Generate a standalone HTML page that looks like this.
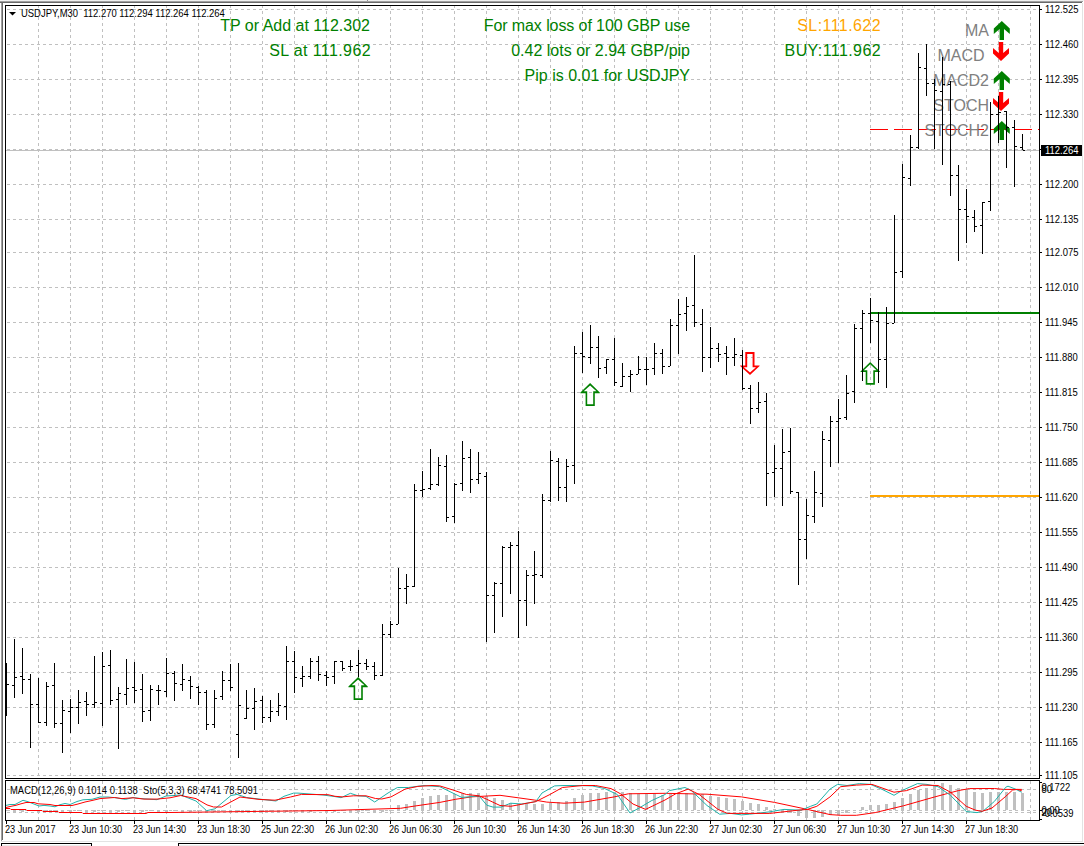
<!DOCTYPE html>
<html><head><meta charset="utf-8"><title>USDJPY,M30</title>
<style>
html,body{margin:0;padding:0;background:#fff;width:1084px;height:846px;overflow:hidden}
svg{position:absolute;left:0;top:0;display:block}
text{font-family:"Liberation Sans", sans-serif}
.ax{font-size:10px;fill:#000}
.big{font-size:16px}
</style></head><body>
<svg width="1084" height="846" viewBox="0 0 1084 846">

<g shape-rendering="crispEdges">
<rect x="0" y="0" width="1084" height="1" fill="#f0f0f0"/>
<rect x="0" y="1" width="1083" height="1" fill="#a0a0a0"/>
<rect x="0" y="2" width="1082" height="1" fill="#696969"/>
<rect x="1" y="3" width="1" height="838" fill="#a0a0a0"/>
<rect x="2" y="3" width="1" height="837" fill="#696969"/>
<rect x="1082" y="3" width="1" height="839" fill="#e3e3e3"/>
<rect x="1" y="841" width="1082" height="1" fill="#e3e3e3"/>
<rect x="1" y="843" width="91" height="1" fill="#000"/>
<rect x="1" y="843" width="1" height="3" fill="#000"/>
<rect x="367" y="0" width="1" height="1" fill="#909090"/>
<rect x="91" y="843" width="1" height="3" fill="#000"/>
<rect x="2" y="845" width="89" height="1" fill="#ececec"/>
<rect x="178" y="843" width="906" height="1" fill="#000"/>
<rect x="178" y="843" width="1" height="3" fill="#000"/>
<rect x="179" y="845" width="905" height="1" fill="#ececec"/>
</g>
<g shape-rendering="crispEdges" stroke="#c0c0c0" stroke-width="1" stroke-dasharray="3 3">
<line x1="7" y1="9.5" x2="1039" y2="9.5"/>
<line x1="7" y1="44.5" x2="1039" y2="44.5"/>
<line x1="7" y1="79.5" x2="1039" y2="79.5"/>
<line x1="7" y1="114.5" x2="1039" y2="114.5"/>
<line x1="7" y1="149.5" x2="1039" y2="149.5"/>
<line x1="7" y1="184.5" x2="1039" y2="184.5"/>
<line x1="7" y1="219.5" x2="1039" y2="219.5"/>
<line x1="7" y1="252.5" x2="1039" y2="252.5"/>
<line x1="7" y1="287.5" x2="1039" y2="287.5"/>
<line x1="7" y1="322.5" x2="1039" y2="322.5"/>
<line x1="7" y1="357.5" x2="1039" y2="357.5"/>
<line x1="7" y1="392.5" x2="1039" y2="392.5"/>
<line x1="7" y1="427.5" x2="1039" y2="427.5"/>
<line x1="7" y1="462.5" x2="1039" y2="462.5"/>
<line x1="7" y1="497.5" x2="1039" y2="497.5"/>
<line x1="7" y1="532.5" x2="1039" y2="532.5"/>
<line x1="7" y1="567.5" x2="1039" y2="567.5"/>
<line x1="7" y1="602.5" x2="1039" y2="602.5"/>
<line x1="7" y1="637.5" x2="1039" y2="637.5"/>
<line x1="7" y1="672.5" x2="1039" y2="672.5"/>
<line x1="7" y1="707.5" x2="1039" y2="707.5"/>
<line x1="7" y1="742.5" x2="1039" y2="742.5"/>
<line x1="7" y1="775.5" x2="1039" y2="775.5"/>
<line x1="38.5" y1="5" x2="38.5" y2="777"/>
<line x1="70.5" y1="5" x2="70.5" y2="777"/>
<line x1="102.5" y1="5" x2="102.5" y2="777"/>
<line x1="134.5" y1="5" x2="134.5" y2="777"/>
<line x1="166.5" y1="5" x2="166.5" y2="777"/>
<line x1="198.5" y1="5" x2="198.5" y2="777"/>
<line x1="230.5" y1="5" x2="230.5" y2="777"/>
<line x1="262.5" y1="5" x2="262.5" y2="777"/>
<line x1="294.5" y1="5" x2="294.5" y2="777"/>
<line x1="326.5" y1="5" x2="326.5" y2="777"/>
<line x1="358.5" y1="5" x2="358.5" y2="777"/>
<line x1="390.5" y1="5" x2="390.5" y2="777"/>
<line x1="422.5" y1="5" x2="422.5" y2="777"/>
<line x1="454.5" y1="5" x2="454.5" y2="777"/>
<line x1="486.5" y1="5" x2="486.5" y2="777"/>
<line x1="518.5" y1="5" x2="518.5" y2="777"/>
<line x1="550.5" y1="5" x2="550.5" y2="777"/>
<line x1="582.5" y1="5" x2="582.5" y2="777"/>
<line x1="614.5" y1="5" x2="614.5" y2="777"/>
<line x1="646.5" y1="5" x2="646.5" y2="777"/>
<line x1="678.5" y1="5" x2="678.5" y2="777"/>
<line x1="710.5" y1="5" x2="710.5" y2="777"/>
<line x1="742.5" y1="5" x2="742.5" y2="777"/>
<line x1="774.5" y1="5" x2="774.5" y2="777"/>
<line x1="806.5" y1="5" x2="806.5" y2="777"/>
<line x1="838.5" y1="5" x2="838.5" y2="777"/>
<line x1="870.5" y1="5" x2="870.5" y2="777"/>
<line x1="902.5" y1="5" x2="902.5" y2="777"/>
<line x1="934.5" y1="5" x2="934.5" y2="777"/>
<line x1="966.5" y1="5" x2="966.5" y2="777"/>
<line x1="998.5" y1="5" x2="998.5" y2="777"/>
<line x1="1030.5" y1="5" x2="1030.5" y2="777"/>
<line x1="7" y1="789.5" x2="1039" y2="789.5"/>
<line x1="7" y1="810.5" x2="1039" y2="810.5"/>
<line x1="7" y1="812.5" x2="1039" y2="812.5"/>
<line x1="38.5" y1="781" x2="38.5" y2="820"/>
<line x1="70.5" y1="781" x2="70.5" y2="820"/>
<line x1="102.5" y1="781" x2="102.5" y2="820"/>
<line x1="134.5" y1="781" x2="134.5" y2="820"/>
<line x1="166.5" y1="781" x2="166.5" y2="820"/>
<line x1="198.5" y1="781" x2="198.5" y2="820"/>
<line x1="230.5" y1="781" x2="230.5" y2="820"/>
<line x1="262.5" y1="781" x2="262.5" y2="820"/>
<line x1="294.5" y1="781" x2="294.5" y2="820"/>
<line x1="326.5" y1="781" x2="326.5" y2="820"/>
<line x1="358.5" y1="781" x2="358.5" y2="820"/>
<line x1="390.5" y1="781" x2="390.5" y2="820"/>
<line x1="422.5" y1="781" x2="422.5" y2="820"/>
<line x1="454.5" y1="781" x2="454.5" y2="820"/>
<line x1="486.5" y1="781" x2="486.5" y2="820"/>
<line x1="518.5" y1="781" x2="518.5" y2="820"/>
<line x1="550.5" y1="781" x2="550.5" y2="820"/>
<line x1="582.5" y1="781" x2="582.5" y2="820"/>
<line x1="614.5" y1="781" x2="614.5" y2="820"/>
<line x1="646.5" y1="781" x2="646.5" y2="820"/>
<line x1="678.5" y1="781" x2="678.5" y2="820"/>
<line x1="710.5" y1="781" x2="710.5" y2="820"/>
<line x1="742.5" y1="781" x2="742.5" y2="820"/>
<line x1="774.5" y1="781" x2="774.5" y2="820"/>
<line x1="806.5" y1="781" x2="806.5" y2="820"/>
<line x1="838.5" y1="781" x2="838.5" y2="820"/>
<line x1="870.5" y1="781" x2="870.5" y2="820"/>
<line x1="902.5" y1="781" x2="902.5" y2="820"/>
<line x1="934.5" y1="781" x2="934.5" y2="820"/>
<line x1="966.5" y1="781" x2="966.5" y2="820"/>
<line x1="998.5" y1="781" x2="998.5" y2="820"/>
<line x1="1030.5" y1="781" x2="1030.5" y2="820"/>
</g>
<rect x="6" y="150" width="1033" height="1" fill="#c0c0c0" shape-rendering="crispEdges"/>
<g shape-rendering="crispEdges">
<rect x="870" y="312" width="169" height="2" fill="#008000"/>
<rect x="870" y="495" width="169" height="2" fill="#ffa500"/>
<line x1="870" y1="129.5" x2="1039" y2="129.5" stroke="#ff0000" stroke-width="1" stroke-dasharray="18 6"/>
</g>
<path d="M358.10,677.10 L367.80,686.50 L367.80,687.20 L362.80,687.20 L362.80,699.90 L353.60,699.90 L353.60,687.20 L348.40,687.20 L348.40,686.50 Z M358.10,679.40 L364.50,685.30 L361.20,685.30 L361.20,698.20 L355.20,698.20 L355.20,685.30 L351.70,685.30 Z" fill="#008000" fill-rule="evenodd"/>
<path d="M590.10,383.10 L599.80,392.50 L599.80,393.20 L594.80,393.20 L594.80,405.90 L585.60,405.90 L585.60,393.20 L580.40,393.20 L580.40,392.50 Z M590.10,385.40 L596.50,391.30 L593.20,391.30 L593.20,404.20 L587.20,404.20 L587.20,391.30 L583.70,391.30 Z" fill="#008000" fill-rule="evenodd"/>
<path d="M870.20,362.00 L879.90,371.40 L879.90,372.10 L874.90,372.10 L874.90,384.80 L865.70,384.80 L865.70,372.10 L860.50,372.10 L860.50,371.40 Z M870.20,364.30 L876.60,370.20 L873.30,370.20 L873.30,383.10 L867.30,383.10 L867.30,370.20 L863.80,370.20 Z" fill="#008000" fill-rule="evenodd"/>
<path d="M745.30,352.00 L754.50,352.00 L754.50,365.40 L759.60,365.40 L759.60,366.00 L750.00,375.00 L740.20,366.00 L740.20,365.40 L745.30,365.40 Z M747.20,353.90 L752.60,353.90 L752.60,367.20 L756.00,367.20 L750.00,372.60 L743.80,367.20 L747.20,367.20 Z" fill="#ff0000" fill-rule="evenodd"/>
<text x="370" y="31" class="big" fill="#008000" text-anchor="end">TP or Add at 112.302</text>
<text x="371" y="56" class="big" fill="#008000" text-anchor="end" letter-spacing="0.4">SL at 111.962</text>
<text x="690" y="31" class="big" fill="#008000" text-anchor="end" letter-spacing="-0.09">For max loss of 100 GBP use</text>
<text x="690" y="56" class="big" fill="#008000" text-anchor="end">0.42 lots or 2.94 GBP/pip</text>
<text x="690" y="81" class="big" fill="#008000" text-anchor="end">Pip is 0.01 for USDJPY</text>
<text x="881" y="31" class="big" fill="#ffa500" text-anchor="end" letter-spacing="0.43">SL:111.622</text>
<text x="881" y="56" class="big" fill="#008000" text-anchor="end" letter-spacing="0.41">BUY:111.962</text>
<text x="989" y="36" class="big" fill="#808080" text-anchor="end">MA</text>
<text x="984.5" y="61" class="big" fill="#808080" text-anchor="end">MACD</text>
<text x="989" y="86" class="big" fill="#808080" text-anchor="end">MACD2</text>
<text x="989" y="111" class="big" fill="#808080" text-anchor="end">STOCH</text>
<text x="989" y="136" class="big" fill="#808080" text-anchor="end">STOCH2</text>
<polygon points="1001.8,21 1009.8,28.5 1009.8,34 1004.0,29 1004.0,40 999.5999999999999,40 999.5999999999999,29 993.8,34 993.8,28.5" fill="#008000"/>
<polygon points="998.8,42 1003.2,42 1003.2,53 1009,48 1009,53.5 1001,61 993,53.5 993,48 998.8,53" fill="#ff0000"/>
<polygon points="1001.8,71 1009.8,78.5 1009.8,84 1004.0,79 1004.0,90 999.5999999999999,90 999.5999999999999,79 993.8,84 993.8,78.5" fill="#008000"/>
<polygon points="998.8,92 1003.2,92 1003.2,103 1009,98 1009,103.5 1001,111 993,103.5 993,98 998.8,103" fill="#ff0000"/>
<polygon points="1001.8,121 1009.8,128.5 1009.8,134 1004.0,129 1004.0,140 999.5999999999999,140 999.5999999999999,129 993.8,134 993.8,128.5" fill="#008000"/>
<g fill="#000" shape-rendering="crispEdges">
<rect x="6" y="663" width="1" height="53"/>
<rect x="7" y="684" width="2" height="1"/>
<rect x="14" y="639" width="1" height="59"/>
<rect x="12" y="685" width="2" height="1"/>
<rect x="15" y="677" width="2" height="1"/>
<rect x="22" y="648" width="1" height="46"/>
<rect x="20" y="676" width="2" height="1"/>
<rect x="23" y="679" width="2" height="1"/>
<rect x="30" y="674" width="1" height="74"/>
<rect x="28" y="679" width="2" height="1"/>
<rect x="31" y="704" width="2" height="1"/>
<rect x="38" y="678" width="1" height="45"/>
<rect x="36" y="704" width="2" height="1"/>
<rect x="39" y="722" width="2" height="1"/>
<rect x="46" y="682" width="1" height="44"/>
<rect x="44" y="722" width="2" height="1"/>
<rect x="47" y="686" width="2" height="1"/>
<rect x="54" y="663" width="1" height="65"/>
<rect x="52" y="685" width="2" height="1"/>
<rect x="55" y="723" width="2" height="1"/>
<rect x="62" y="700" width="1" height="53"/>
<rect x="60" y="723" width="2" height="1"/>
<rect x="63" y="710" width="2" height="1"/>
<rect x="70" y="699" width="1" height="34"/>
<rect x="68" y="711" width="2" height="1"/>
<rect x="71" y="707" width="2" height="1"/>
<rect x="78" y="690" width="1" height="34"/>
<rect x="76" y="707" width="2" height="1"/>
<rect x="79" y="702" width="2" height="1"/>
<rect x="86" y="692" width="1" height="24"/>
<rect x="84" y="701" width="2" height="1"/>
<rect x="87" y="704" width="2" height="1"/>
<rect x="94" y="656" width="1" height="52"/>
<rect x="92" y="704" width="2" height="1"/>
<rect x="95" y="702" width="2" height="1"/>
<rect x="102" y="652" width="1" height="74"/>
<rect x="100" y="703" width="2" height="1"/>
<rect x="103" y="666" width="2" height="1"/>
<rect x="110" y="650" width="1" height="55"/>
<rect x="108" y="665" width="2" height="1"/>
<rect x="111" y="700" width="2" height="1"/>
<rect x="118" y="687" width="1" height="62"/>
<rect x="116" y="699" width="2" height="1"/>
<rect x="119" y="693" width="2" height="1"/>
<rect x="126" y="659" width="1" height="46"/>
<rect x="124" y="694" width="2" height="1"/>
<rect x="127" y="688" width="2" height="1"/>
<rect x="134" y="662" width="1" height="41"/>
<rect x="132" y="687" width="2" height="1"/>
<rect x="135" y="690" width="2" height="1"/>
<rect x="142" y="674" width="1" height="48"/>
<rect x="140" y="689" width="2" height="1"/>
<rect x="143" y="711" width="2" height="1"/>
<rect x="150" y="685" width="1" height="36"/>
<rect x="148" y="710" width="2" height="1"/>
<rect x="151" y="689" width="2" height="1"/>
<rect x="158" y="685" width="1" height="20"/>
<rect x="156" y="690" width="2" height="1"/>
<rect x="159" y="690" width="2" height="1"/>
<rect x="166" y="658" width="1" height="39"/>
<rect x="164" y="691" width="2" height="1"/>
<rect x="167" y="673" width="2" height="1"/>
<rect x="174" y="671" width="1" height="30"/>
<rect x="172" y="673" width="2" height="1"/>
<rect x="175" y="683" width="2" height="1"/>
<rect x="182" y="664" width="1" height="27"/>
<rect x="180" y="684" width="2" height="1"/>
<rect x="183" y="679" width="2" height="1"/>
<rect x="190" y="676" width="1" height="23"/>
<rect x="188" y="680" width="2" height="1"/>
<rect x="191" y="686" width="2" height="1"/>
<rect x="198" y="686" width="1" height="19"/>
<rect x="196" y="687" width="2" height="1"/>
<rect x="199" y="692" width="2" height="1"/>
<rect x="206" y="690" width="1" height="40"/>
<rect x="204" y="692" width="2" height="1"/>
<rect x="207" y="724" width="2" height="1"/>
<rect x="214" y="690" width="1" height="38"/>
<rect x="212" y="724" width="2" height="1"/>
<rect x="215" y="698" width="2" height="1"/>
<rect x="222" y="671" width="1" height="29"/>
<rect x="220" y="696" width="2" height="1"/>
<rect x="223" y="680" width="2" height="1"/>
<rect x="230" y="664" width="1" height="27"/>
<rect x="228" y="680" width="2" height="1"/>
<rect x="231" y="687" width="2" height="1"/>
<rect x="238" y="663" width="1" height="95"/>
<rect x="236" y="734" width="2" height="1"/>
<rect x="239" y="705" width="2" height="1"/>
<rect x="246" y="690" width="1" height="29"/>
<rect x="244" y="718" width="2" height="1"/>
<rect x="247" y="708" width="2" height="1"/>
<rect x="254" y="688" width="1" height="42"/>
<rect x="252" y="708" width="2" height="1"/>
<rect x="255" y="701" width="2" height="1"/>
<rect x="262" y="696" width="1" height="27"/>
<rect x="260" y="700" width="2" height="1"/>
<rect x="263" y="717" width="2" height="1"/>
<rect x="270" y="700" width="1" height="22"/>
<rect x="268" y="717" width="2" height="1"/>
<rect x="271" y="711" width="2" height="1"/>
<rect x="278" y="693" width="1" height="23"/>
<rect x="276" y="711" width="2" height="1"/>
<rect x="279" y="705" width="2" height="1"/>
<rect x="286" y="646" width="1" height="74"/>
<rect x="284" y="706" width="2" height="1"/>
<rect x="287" y="661" width="2" height="1"/>
<rect x="294" y="651" width="1" height="42"/>
<rect x="292" y="661" width="2" height="1"/>
<rect x="295" y="677" width="2" height="1"/>
<rect x="302" y="666" width="1" height="21"/>
<rect x="300" y="678" width="2" height="1"/>
<rect x="303" y="676" width="2" height="1"/>
<rect x="310" y="658" width="1" height="21"/>
<rect x="308" y="676" width="2" height="1"/>
<rect x="311" y="661" width="2" height="1"/>
<rect x="318" y="656" width="1" height="25"/>
<rect x="316" y="661" width="2" height="1"/>
<rect x="319" y="674" width="2" height="1"/>
<rect x="326" y="671" width="1" height="15"/>
<rect x="324" y="675" width="2" height="1"/>
<rect x="327" y="677" width="2" height="1"/>
<rect x="334" y="661" width="1" height="23"/>
<rect x="332" y="676" width="2" height="1"/>
<rect x="335" y="661" width="2" height="1"/>
<rect x="342" y="661" width="1" height="10"/>
<rect x="340" y="661" width="2" height="1"/>
<rect x="343" y="668" width="2" height="1"/>
<rect x="350" y="660" width="1" height="11"/>
<rect x="348" y="666" width="2" height="1"/>
<rect x="351" y="666" width="2" height="1"/>
<rect x="358" y="650" width="1" height="27"/>
<rect x="356" y="665" width="2" height="1"/>
<rect x="359" y="663" width="2" height="1"/>
<rect x="366" y="659" width="1" height="11"/>
<rect x="364" y="663" width="2" height="1"/>
<rect x="367" y="666" width="2" height="1"/>
<rect x="374" y="662" width="1" height="18"/>
<rect x="372" y="666" width="2" height="1"/>
<rect x="375" y="675" width="2" height="1"/>
<rect x="382" y="624" width="1" height="52"/>
<rect x="380" y="675" width="2" height="1"/>
<rect x="383" y="634" width="2" height="1"/>
<rect x="390" y="621" width="1" height="17"/>
<rect x="388" y="634" width="2" height="1"/>
<rect x="391" y="624" width="2" height="1"/>
<rect x="398" y="568" width="1" height="56"/>
<rect x="396" y="624" width="2" height="1"/>
<rect x="399" y="588" width="2" height="1"/>
<rect x="406" y="574" width="1" height="30"/>
<rect x="404" y="588" width="2" height="1"/>
<rect x="407" y="586" width="2" height="1"/>
<rect x="414" y="484" width="1" height="103"/>
<rect x="412" y="586" width="2" height="1"/>
<rect x="415" y="490" width="2" height="1"/>
<rect x="422" y="471" width="1" height="26"/>
<rect x="420" y="490" width="2" height="1"/>
<rect x="423" y="489" width="2" height="1"/>
<rect x="430" y="449" width="1" height="41"/>
<rect x="428" y="488" width="2" height="1"/>
<rect x="431" y="484" width="2" height="1"/>
<rect x="438" y="457" width="1" height="29"/>
<rect x="436" y="484" width="2" height="1"/>
<rect x="439" y="465" width="2" height="1"/>
<rect x="446" y="455" width="1" height="67"/>
<rect x="444" y="466" width="2" height="1"/>
<rect x="447" y="517" width="2" height="1"/>
<rect x="454" y="483" width="1" height="40"/>
<rect x="452" y="516" width="2" height="1"/>
<rect x="455" y="484" width="2" height="1"/>
<rect x="462" y="441" width="1" height="50"/>
<rect x="460" y="483" width="2" height="1"/>
<rect x="463" y="458" width="2" height="1"/>
<rect x="470" y="449" width="1" height="44"/>
<rect x="468" y="457" width="2" height="1"/>
<rect x="471" y="479" width="2" height="1"/>
<rect x="478" y="452" width="1" height="32"/>
<rect x="476" y="479" width="2" height="1"/>
<rect x="479" y="473" width="2" height="1"/>
<rect x="486" y="472" width="1" height="170"/>
<rect x="484" y="476" width="2" height="1"/>
<rect x="487" y="595" width="2" height="1"/>
<rect x="494" y="582" width="1" height="51"/>
<rect x="492" y="595" width="2" height="1"/>
<rect x="495" y="583" width="2" height="1"/>
<rect x="502" y="546" width="1" height="71"/>
<rect x="500" y="583" width="2" height="1"/>
<rect x="503" y="547" width="2" height="1"/>
<rect x="510" y="542" width="1" height="52"/>
<rect x="508" y="547" width="2" height="1"/>
<rect x="511" y="545" width="2" height="1"/>
<rect x="518" y="531" width="1" height="107"/>
<rect x="516" y="545" width="2" height="1"/>
<rect x="519" y="600" width="2" height="1"/>
<rect x="526" y="570" width="1" height="56"/>
<rect x="524" y="600" width="2" height="1"/>
<rect x="527" y="575" width="2" height="1"/>
<rect x="534" y="551" width="1" height="53"/>
<rect x="532" y="575" width="2" height="1"/>
<rect x="535" y="574" width="2" height="1"/>
<rect x="542" y="494" width="1" height="84"/>
<rect x="540" y="575" width="2" height="1"/>
<rect x="543" y="500" width="2" height="1"/>
<rect x="550" y="451" width="1" height="51"/>
<rect x="548" y="500" width="2" height="1"/>
<rect x="551" y="460" width="2" height="1"/>
<rect x="558" y="458" width="1" height="43"/>
<rect x="556" y="461" width="2" height="1"/>
<rect x="559" y="487" width="2" height="1"/>
<rect x="566" y="459" width="1" height="43"/>
<rect x="564" y="487" width="2" height="1"/>
<rect x="567" y="466" width="2" height="1"/>
<rect x="574" y="346" width="1" height="138"/>
<rect x="572" y="465" width="2" height="1"/>
<rect x="575" y="353" width="2" height="1"/>
<rect x="582" y="332" width="1" height="41"/>
<rect x="580" y="353" width="2" height="1"/>
<rect x="583" y="356" width="2" height="1"/>
<rect x="590" y="325" width="1" height="39"/>
<rect x="588" y="357" width="2" height="1"/>
<rect x="591" y="347" width="2" height="1"/>
<rect x="598" y="336" width="1" height="42"/>
<rect x="596" y="347" width="2" height="1"/>
<rect x="599" y="368" width="2" height="1"/>
<rect x="606" y="359" width="1" height="15"/>
<rect x="604" y="367" width="2" height="1"/>
<rect x="607" y="359" width="2" height="1"/>
<rect x="614" y="338" width="1" height="48"/>
<rect x="612" y="359" width="2" height="1"/>
<rect x="615" y="382" width="2" height="1"/>
<rect x="622" y="363" width="1" height="24"/>
<rect x="620" y="386" width="2" height="1"/>
<rect x="623" y="376" width="2" height="1"/>
<rect x="630" y="370" width="1" height="22"/>
<rect x="628" y="376" width="2" height="1"/>
<rect x="631" y="374" width="2" height="1"/>
<rect x="638" y="356" width="1" height="18"/>
<rect x="636" y="374" width="2" height="1"/>
<rect x="639" y="369" width="2" height="1"/>
<rect x="646" y="357" width="1" height="28"/>
<rect x="644" y="369" width="2" height="1"/>
<rect x="647" y="369" width="2" height="1"/>
<rect x="654" y="343" width="1" height="32"/>
<rect x="652" y="368" width="2" height="1"/>
<rect x="655" y="353" width="2" height="1"/>
<rect x="662" y="349" width="1" height="25"/>
<rect x="660" y="353" width="2" height="1"/>
<rect x="663" y="366" width="2" height="1"/>
<rect x="670" y="319" width="1" height="47"/>
<rect x="668" y="366" width="2" height="1"/>
<rect x="671" y="325" width="2" height="1"/>
<rect x="678" y="299" width="1" height="55"/>
<rect x="676" y="325" width="2" height="1"/>
<rect x="679" y="314" width="2" height="1"/>
<rect x="686" y="297" width="1" height="34"/>
<rect x="684" y="313" width="2" height="1"/>
<rect x="687" y="306" width="2" height="1"/>
<rect x="694" y="255" width="1" height="72"/>
<rect x="692" y="305" width="2" height="1"/>
<rect x="695" y="322" width="2" height="1"/>
<rect x="702" y="309" width="1" height="63"/>
<rect x="700" y="324" width="2" height="1"/>
<rect x="703" y="357" width="2" height="1"/>
<rect x="710" y="327" width="1" height="41"/>
<rect x="708" y="357" width="2" height="1"/>
<rect x="711" y="348" width="2" height="1"/>
<rect x="718" y="343" width="1" height="19"/>
<rect x="716" y="348" width="2" height="1"/>
<rect x="719" y="354" width="2" height="1"/>
<rect x="726" y="346" width="1" height="29"/>
<rect x="724" y="353" width="2" height="1"/>
<rect x="727" y="357" width="2" height="1"/>
<rect x="734" y="338" width="1" height="28"/>
<rect x="732" y="357" width="2" height="1"/>
<rect x="735" y="354" width="2" height="1"/>
<rect x="742" y="350" width="1" height="40"/>
<rect x="740" y="355" width="2" height="1"/>
<rect x="743" y="388" width="2" height="1"/>
<rect x="750" y="385" width="1" height="39"/>
<rect x="748" y="388" width="2" height="1"/>
<rect x="751" y="408" width="2" height="1"/>
<rect x="758" y="382" width="1" height="31"/>
<rect x="756" y="408" width="2" height="1"/>
<rect x="759" y="402" width="2" height="1"/>
<rect x="766" y="393" width="1" height="113"/>
<rect x="764" y="401" width="2" height="1"/>
<rect x="767" y="473" width="2" height="1"/>
<rect x="774" y="445" width="1" height="52"/>
<rect x="772" y="472" width="2" height="1"/>
<rect x="775" y="468" width="2" height="1"/>
<rect x="782" y="429" width="1" height="77"/>
<rect x="780" y="468" width="2" height="1"/>
<rect x="783" y="452" width="2" height="1"/>
<rect x="790" y="428" width="1" height="66"/>
<rect x="788" y="451" width="2" height="1"/>
<rect x="791" y="491" width="2" height="1"/>
<rect x="798" y="492" width="1" height="93"/>
<rect x="796" y="492" width="2" height="1"/>
<rect x="799" y="539" width="2" height="1"/>
<rect x="806" y="499" width="1" height="60"/>
<rect x="804" y="539" width="2" height="1"/>
<rect x="807" y="515" width="2" height="1"/>
<rect x="814" y="471" width="1" height="52"/>
<rect x="812" y="516" width="2" height="1"/>
<rect x="815" y="492" width="2" height="1"/>
<rect x="822" y="431" width="1" height="76"/>
<rect x="820" y="493" width="2" height="1"/>
<rect x="823" y="439" width="2" height="1"/>
<rect x="830" y="416" width="1" height="51"/>
<rect x="828" y="440" width="2" height="1"/>
<rect x="831" y="421" width="2" height="1"/>
<rect x="838" y="399" width="1" height="64"/>
<rect x="836" y="421" width="2" height="1"/>
<rect x="839" y="418" width="2" height="1"/>
<rect x="846" y="375" width="1" height="45"/>
<rect x="844" y="417" width="2" height="1"/>
<rect x="847" y="393" width="2" height="1"/>
<rect x="854" y="324" width="1" height="79"/>
<rect x="852" y="391" width="2" height="1"/>
<rect x="855" y="328" width="2" height="1"/>
<rect x="862" y="310" width="1" height="71"/>
<rect x="860" y="328" width="2" height="1"/>
<rect x="863" y="313" width="2" height="1"/>
<rect x="870" y="298" width="1" height="45"/>
<rect x="868" y="313" width="2" height="1"/>
<rect x="871" y="320" width="2" height="1"/>
<rect x="878" y="312" width="1" height="71"/>
<rect x="876" y="321" width="2" height="1"/>
<rect x="879" y="359" width="2" height="1"/>
<rect x="886" y="307" width="1" height="81"/>
<rect x="884" y="359" width="2" height="1"/>
<rect x="887" y="323" width="2" height="1"/>
<rect x="894" y="215" width="1" height="108"/>
<rect x="892" y="323" width="2" height="1"/>
<rect x="895" y="272" width="2" height="1"/>
<rect x="902" y="164" width="1" height="114"/>
<rect x="900" y="271" width="2" height="1"/>
<rect x="903" y="177" width="2" height="1"/>
<rect x="910" y="135" width="1" height="51"/>
<rect x="908" y="178" width="2" height="1"/>
<rect x="911" y="147" width="2" height="1"/>
<rect x="918" y="53" width="1" height="96"/>
<rect x="916" y="147" width="2" height="1"/>
<rect x="919" y="67" width="2" height="1"/>
<rect x="926" y="44" width="1" height="52"/>
<rect x="924" y="68" width="2" height="1"/>
<rect x="927" y="83" width="2" height="1"/>
<rect x="934" y="79" width="1" height="70"/>
<rect x="932" y="83" width="2" height="1"/>
<rect x="935" y="90" width="2" height="1"/>
<rect x="942" y="57" width="1" height="108"/>
<rect x="940" y="91" width="2" height="1"/>
<rect x="943" y="84" width="2" height="1"/>
<rect x="950" y="81" width="1" height="115"/>
<rect x="948" y="84" width="2" height="1"/>
<rect x="951" y="175" width="2" height="1"/>
<rect x="958" y="165" width="1" height="96"/>
<rect x="956" y="175" width="2" height="1"/>
<rect x="959" y="209" width="2" height="1"/>
<rect x="966" y="189" width="1" height="54"/>
<rect x="964" y="209" width="2" height="1"/>
<rect x="967" y="216" width="2" height="1"/>
<rect x="974" y="210" width="1" height="22"/>
<rect x="972" y="217" width="2" height="1"/>
<rect x="975" y="226" width="2" height="1"/>
<rect x="982" y="202" width="1" height="52"/>
<rect x="980" y="225" width="2" height="1"/>
<rect x="983" y="202" width="2" height="1"/>
<rect x="990" y="102" width="1" height="109"/>
<rect x="988" y="201" width="2" height="1"/>
<rect x="991" y="114" width="2" height="1"/>
<rect x="998" y="96" width="1" height="47"/>
<rect x="996" y="114" width="2" height="1"/>
<rect x="999" y="112" width="2" height="1"/>
<rect x="1006" y="111" width="1" height="57"/>
<rect x="1004" y="111" width="2" height="1"/>
<rect x="1007" y="127" width="2" height="1"/>
<rect x="1014" y="120" width="1" height="67"/>
<rect x="1012" y="127" width="2" height="1"/>
<rect x="1015" y="146" width="2" height="1"/>
<rect x="1022" y="134" width="1" height="16"/>
<rect x="1020" y="147" width="2" height="1"/>
<rect x="1023" y="150" width="2" height="1"/>
</g>
<g shape-rendering="crispEdges" fill="#c0c0c0">
<rect x="5" y="810" width="3" height="1"/>
<rect x="13" y="810" width="3" height="2"/>
<rect x="21" y="810" width="3" height="2"/>
<rect x="29" y="810" width="3" height="1"/>
<rect x="37" y="810" width="3" height="2"/>
<rect x="45" y="810" width="3" height="2"/>
<rect x="53" y="810" width="3" height="1"/>
<rect x="61" y="810" width="3" height="2"/>
<rect x="69" y="810" width="3" height="2"/>
<rect x="77" y="810" width="3" height="1"/>
<rect x="85" y="810" width="3" height="2"/>
<rect x="93" y="810" width="3" height="2"/>
<rect x="101" y="810" width="3" height="1"/>
<rect x="109" y="810" width="3" height="2"/>
<rect x="117" y="810" width="3" height="2"/>
<rect x="125" y="810" width="3" height="1"/>
<rect x="133" y="810" width="3" height="2"/>
<rect x="141" y="810" width="3" height="2"/>
<rect x="149" y="810" width="3" height="1"/>
<rect x="157" y="810" width="3" height="2"/>
<rect x="165" y="810" width="3" height="2"/>
<rect x="173" y="810" width="3" height="1"/>
<rect x="181" y="810" width="3" height="2"/>
<rect x="189" y="810" width="3" height="2"/>
<rect x="197" y="810" width="3" height="1"/>
<rect x="205" y="810" width="3" height="2"/>
<rect x="213" y="810" width="3" height="2"/>
<rect x="221" y="810" width="3" height="1"/>
<rect x="229" y="810" width="3" height="2"/>
<rect x="237" y="810" width="3" height="2"/>
<rect x="245" y="810" width="3" height="1"/>
<rect x="253" y="810" width="3" height="2"/>
<rect x="261" y="810" width="3" height="2"/>
<rect x="269" y="810" width="3" height="1"/>
<rect x="277" y="810" width="3" height="2"/>
<rect x="285" y="810" width="3" height="2"/>
<rect x="293" y="810" width="3" height="1"/>
<rect x="301" y="810" width="3" height="2"/>
<rect x="309" y="810" width="3" height="2"/>
<rect x="317" y="810" width="3" height="1"/>
<rect x="325" y="810" width="3" height="2"/>
<rect x="333" y="810" width="3" height="2"/>
<rect x="341" y="810" width="3" height="1"/>
<rect x="349" y="810" width="3" height="2"/>
<rect x="357" y="810" width="3" height="2"/>
<rect x="365" y="810" width="3" height="1"/>
<rect x="373" y="810" width="3" height="2"/>
<rect x="381" y="810" width="3" height="2"/>
<rect x="389" y="810" width="3" height="1"/>
<rect x="397" y="805" width="3" height="5"/>
<rect x="405" y="804" width="3" height="6"/>
<rect x="413" y="801" width="3" height="9"/>
<rect x="421" y="798" width="3" height="12"/>
<rect x="429" y="796" width="3" height="14"/>
<rect x="437" y="795" width="3" height="15"/>
<rect x="445" y="795" width="3" height="15"/>
<rect x="453" y="794" width="3" height="16"/>
<rect x="461" y="793" width="3" height="17"/>
<rect x="469" y="793" width="3" height="17"/>
<rect x="477" y="793" width="3" height="17"/>
<rect x="485" y="796" width="3" height="14"/>
<rect x="493" y="798" width="3" height="12"/>
<rect x="501" y="800" width="3" height="10"/>
<rect x="509" y="803" width="3" height="7"/>
<rect x="517" y="804" width="3" height="6"/>
<rect x="525" y="804" width="3" height="6"/>
<rect x="533" y="804" width="3" height="6"/>
<rect x="541" y="804" width="3" height="6"/>
<rect x="549" y="803" width="3" height="7"/>
<rect x="557" y="802" width="3" height="8"/>
<rect x="565" y="801" width="3" height="9"/>
<rect x="573" y="798" width="3" height="12"/>
<rect x="581" y="795" width="3" height="15"/>
<rect x="589" y="793" width="3" height="17"/>
<rect x="597" y="793" width="3" height="17"/>
<rect x="605" y="792" width="3" height="18"/>
<rect x="613" y="792" width="3" height="18"/>
<rect x="621" y="792" width="3" height="18"/>
<rect x="629" y="793" width="3" height="17"/>
<rect x="637" y="794" width="3" height="16"/>
<rect x="645" y="794" width="3" height="16"/>
<rect x="653" y="794" width="3" height="16"/>
<rect x="661" y="795" width="3" height="15"/>
<rect x="669" y="794" width="3" height="16"/>
<rect x="677" y="794" width="3" height="16"/>
<rect x="685" y="793" width="3" height="17"/>
<rect x="693" y="794" width="3" height="16"/>
<rect x="701" y="794" width="3" height="16"/>
<rect x="709" y="796" width="3" height="14"/>
<rect x="717" y="797" width="3" height="13"/>
<rect x="725" y="798" width="3" height="12"/>
<rect x="733" y="799" width="3" height="11"/>
<rect x="741" y="801" width="3" height="9"/>
<rect x="749" y="803" width="3" height="7"/>
<rect x="757" y="804" width="3" height="6"/>
<rect x="765" y="807" width="3" height="3"/>
<rect x="773" y="809" width="3" height="1"/>
<rect x="781" y="810" width="3" height="2"/>
<rect x="789" y="810" width="3" height="3"/>
<rect x="797" y="810" width="3" height="6"/>
<rect x="805" y="810" width="3" height="8"/>
<rect x="813" y="810" width="3" height="8"/>
<rect x="821" y="810" width="3" height="7"/>
<rect x="829" y="810" width="3" height="5"/>
<rect x="837" y="810" width="3" height="5"/>
<rect x="845" y="810" width="3" height="3"/>
<rect x="853" y="810" width="3" height="1"/>
<rect x="861" y="807" width="3" height="3"/>
<rect x="869" y="805" width="3" height="5"/>
<rect x="877" y="805" width="3" height="5"/>
<rect x="885" y="804" width="3" height="6"/>
<rect x="893" y="802" width="3" height="8"/>
<rect x="901" y="798" width="3" height="12"/>
<rect x="909" y="794" width="3" height="16"/>
<rect x="917" y="790" width="3" height="20"/>
<rect x="925" y="788" width="3" height="22"/>
<rect x="933" y="786" width="3" height="24"/>
<rect x="941" y="783" width="3" height="27"/>
<rect x="949" y="785" width="3" height="25"/>
<rect x="957" y="788" width="3" height="22"/>
<rect x="965" y="789" width="3" height="21"/>
<rect x="973" y="792" width="3" height="18"/>
<rect x="981" y="793" width="3" height="17"/>
<rect x="989" y="792" width="3" height="18"/>
<rect x="997" y="792" width="3" height="18"/>
<rect x="1005" y="792" width="3" height="18"/>
<rect x="1013" y="792" width="3" height="18"/>
<rect x="1021" y="793" width="3" height="17"/>
</g>
<polyline points="6,808.5 10,808.5 11,809.5 26,809.5 27,810.5 42,810.5 43,811.5 58,811.5 59,812.5 82,812.5 83,813.5 146,813.5 148,812.5 170,812.5 330,810.5 400.6,808.3 413,806.3 439.8,802.4 455.5,799.3 471,796.9 500,795.3 534.2,800 546.8,802.1 564,803.2 584.4,802.1 614.2,796.9 628.3,793.8 665,793.3 707,794.2 741.6,796.9 774.5,802.4 807.4,809.4 830,814.6 840.7,815.3 856.4,815.3 875.2,812.6 903.4,805.8 934.8,796.9 958.3,790.6 969.3,788.6 994.3,788.5 1003.5,789.4 1021.8,789.4" fill="none" stroke="#ff0000" stroke-width="1" stroke-linejoin="round"/>
<polyline points="6,805.4 10,804.5 15,804.5 23,800.3 28,801.7 39,806 44,805.4 50,806 55,806.8 60,804.7 65,803.5 70,804.5 77,801.5 83,799.8 92,799.3 100,797 108,797 116,797.8 125.5,799.4 133,797.5 141,798.6 157,799.7 166,796 180.7,795 196,801 206.6,810.7 215,808.8 231,795.5 237,794.4 246.6,797.5 262,799.4 276,801 284,796.3 293.6,793.1 298,793.1 323,795 335,796.6 341,797.7 350.4,793.3 358,795.8 366,796.4 374.7,802 388,793 397.4,787.5 408.4,787.5 424,785.5 439.8,786.7 461.7,797.4 468,796.9 479,795.8 486.8,805.2 493,807.1 501,807.1 510.7,803.2 521.7,804 535.8,801.6 542,793 554.6,785.9 564,785.5 578,785.5 592.2,785.9 604.8,788.6 617.3,794.5 630,813 639.3,807.9 651.8,800.5 665,794.5 669.4,790.6 685,787.5 691.4,790.6 707,805.5 719.6,814.2 730.6,813.4 741.6,814.9 749.4,814.2 769.8,811.8 784,809.4 801.2,810.2 810.6,806.3 816.8,804 830,789.1 837.5,784.4 847,785.5 859.5,783.6 870.5,784.4 883,789.8 894,795.3 901.9,790.6 917.5,783.6 927,784.4 938,786.7 950.5,795.3 966.2,811.5 977,812.6 982.9,811.2 994.3,801.5 1005.8,787.2 1008,786.2 1015,788.9 1021.8,792.3" fill="none" stroke="#20b2aa" stroke-width="1" stroke-linejoin="round"/>
<polyline points="6,807.5 10,806.5 16,805.3 21,803.8 26,802.5 34,802.5 38,803.8 50,804.5 55,805.5 72,805.5 78,804 85,802 92,800.5 100,798.6 114.5,797.5 122,798.6 133,797.8 144,799.1 157,799.1 170,797.8 180.7,795.5 196,798.6 207,804.9 213.6,807 221.5,807 240,797 259,799.4 275,800.2 290.5,797 301.5,794.4 328,794.7 335,796.3 342.5,796.9 353.5,795.8 366,795.8 375.5,798.5 381.8,799 391,796.9 405.3,789 417.8,786.4 432,785.5 439.8,785.9 452.3,789.8 466.4,794.5 479,795.8 486.8,799.3 500,805.5 510.7,806.3 535.8,801.6 549.9,794.5 562.4,787.5 582.8,785.5 595.4,785.5 611,788.6 620.5,793.8 633,804 645.6,809.4 665,800 675.7,793.8 688.2,789.1 699.2,794.5 718,809.4 727.4,813.4 769.8,813.4 798,810.2 807.4,809.4 816.8,806.3 830,796.9 840.7,786.7 856.4,785.1 872,784.4 894,792.2 906.6,790.6 922.2,785.1 938,785.5 950.5,792.2 966.2,806.3 975.6,810.2 982,811.3 992,808 1005.8,796.3 1012.6,790 1017.2,789.4 1021.8,790.8" fill="none" stroke="#ff0000" stroke-width="1" stroke-linejoin="round"/>
<g shape-rendering="crispEdges" fill="none" stroke="#000" stroke-width="1">
<rect x="5.5" y="5.5" width="1034" height="773"/>
<rect x="5.5" y="780.5" width="1034" height="40"/>
</g>
<g shape-rendering="crispEdges" fill="#000">
<rect x="1040" y="9" width="2" height="1"/>
<rect x="1040" y="44" width="2" height="1"/>
<rect x="1040" y="79" width="2" height="1"/>
<rect x="1040" y="114" width="2" height="1"/>
<rect x="1040" y="149" width="2" height="1"/>
<rect x="1040" y="184" width="2" height="1"/>
<rect x="1040" y="219" width="2" height="1"/>
<rect x="1040" y="252" width="2" height="1"/>
<rect x="1040" y="287" width="2" height="1"/>
<rect x="1040" y="322" width="2" height="1"/>
<rect x="1040" y="357" width="2" height="1"/>
<rect x="1040" y="392" width="2" height="1"/>
<rect x="1040" y="427" width="2" height="1"/>
<rect x="1040" y="462" width="2" height="1"/>
<rect x="1040" y="497" width="2" height="1"/>
<rect x="1040" y="532" width="2" height="1"/>
<rect x="1040" y="567" width="2" height="1"/>
<rect x="1040" y="602" width="2" height="1"/>
<rect x="1040" y="637" width="2" height="1"/>
<rect x="1040" y="672" width="2" height="1"/>
<rect x="1040" y="707" width="2" height="1"/>
<rect x="1040" y="742" width="2" height="1"/>
<rect x="1040" y="775" width="2" height="1"/>
</g>
<text transform="translate(1045,13) scale(0.945,1)" class="ax" style="fill:#000">112.525</text>
<text transform="translate(1045,48) scale(0.945,1)" class="ax" style="fill:#000">112.460</text>
<text transform="translate(1045,83) scale(0.945,1)" class="ax" style="fill:#000">112.395</text>
<text transform="translate(1045,118) scale(0.945,1)" class="ax" style="fill:#000">112.330</text>
<text transform="translate(1045,188) scale(0.945,1)" class="ax" style="fill:#000">112.200</text>
<text transform="translate(1045,223) scale(0.945,1)" class="ax" style="fill:#000">112.135</text>
<text transform="translate(1045,256) scale(0.945,1)" class="ax" style="fill:#000">112.075</text>
<text transform="translate(1045,291) scale(0.945,1)" class="ax" style="fill:#000">112.010</text>
<text transform="translate(1045,326) scale(0.945,1)" class="ax" style="fill:#000">111.945</text>
<text transform="translate(1045,361) scale(0.945,1)" class="ax" style="fill:#000">111.880</text>
<text transform="translate(1045,396) scale(0.945,1)" class="ax" style="fill:#000">111.815</text>
<text transform="translate(1045,431) scale(0.945,1)" class="ax" style="fill:#000">111.750</text>
<text transform="translate(1045,466) scale(0.945,1)" class="ax" style="fill:#000">111.685</text>
<text transform="translate(1045,501) scale(0.945,1)" class="ax" style="fill:#000">111.620</text>
<text transform="translate(1045,536) scale(0.945,1)" class="ax" style="fill:#000">111.555</text>
<text transform="translate(1045,571) scale(0.945,1)" class="ax" style="fill:#000">111.490</text>
<text transform="translate(1045,606) scale(0.945,1)" class="ax" style="fill:#000">111.425</text>
<text transform="translate(1045,641) scale(0.945,1)" class="ax" style="fill:#000">111.360</text>
<text transform="translate(1045,676) scale(0.945,1)" class="ax" style="fill:#000">111.295</text>
<text transform="translate(1045,711) scale(0.945,1)" class="ax" style="fill:#000">111.230</text>
<text transform="translate(1045,746) scale(0.945,1)" class="ax" style="fill:#000">111.165</text>
<text transform="translate(1045,779) scale(0.945,1)" class="ax" style="fill:#000">111.105</text>
<rect x="1041" y="145" width="41" height="11" fill="#000" shape-rendering="crispEdges"/>
<text transform="translate(1045,154) scale(0.945,1)" class="ax" style="fill:#fff">112.264</text>
<g shape-rendering="crispEdges" fill="#000">
<rect x="6" y="821" width="1" height="3"/>
<rect x="70" y="821" width="1" height="3"/>
<rect x="134" y="821" width="1" height="3"/>
<rect x="198" y="821" width="1" height="3"/>
<rect x="262" y="821" width="1" height="3"/>
<rect x="326" y="821" width="1" height="3"/>
<rect x="390" y="821" width="1" height="3"/>
<rect x="454" y="821" width="1" height="3"/>
<rect x="518" y="821" width="1" height="3"/>
<rect x="582" y="821" width="1" height="3"/>
<rect x="646" y="821" width="1" height="3"/>
<rect x="710" y="821" width="1" height="3"/>
<rect x="774" y="821" width="1" height="3"/>
<rect x="838" y="821" width="1" height="3"/>
<rect x="902" y="821" width="1" height="3"/>
<rect x="966" y="821" width="1" height="3"/>
</g>
<text transform="translate(5,833) scale(0.92,1)" class="ax" style="fill:#000">23 Jun 2017</text>
<text transform="translate(69,833) scale(0.92,1)" class="ax" style="fill:#000">23 Jun 10:30</text>
<text transform="translate(133,833) scale(0.92,1)" class="ax" style="fill:#000">23 Jun 14:30</text>
<text transform="translate(197,833) scale(0.92,1)" class="ax" style="fill:#000">23 Jun 18:30</text>
<text transform="translate(261,833) scale(0.92,1)" class="ax" style="fill:#000">25 Jun 22:30</text>
<text transform="translate(325,833) scale(0.92,1)" class="ax" style="fill:#000">26 Jun 02:30</text>
<text transform="translate(389,833) scale(0.92,1)" class="ax" style="fill:#000">26 Jun 06:30</text>
<text transform="translate(453,833) scale(0.92,1)" class="ax" style="fill:#000">26 Jun 10:30</text>
<text transform="translate(517,833) scale(0.92,1)" class="ax" style="fill:#000">26 Jun 14:30</text>
<text transform="translate(581,833) scale(0.92,1)" class="ax" style="fill:#000">26 Jun 18:30</text>
<text transform="translate(645,833) scale(0.92,1)" class="ax" style="fill:#000">26 Jun 22:30</text>
<text transform="translate(709,833) scale(0.92,1)" class="ax" style="fill:#000">27 Jun 02:30</text>
<text transform="translate(773,833) scale(0.92,1)" class="ax" style="fill:#000">27 Jun 06:30</text>
<text transform="translate(837,833) scale(0.92,1)" class="ax" style="fill:#000">27 Jun 10:30</text>
<text transform="translate(901,833) scale(0.92,1)" class="ax" style="fill:#000">27 Jun 14:30</text>
<text transform="translate(965,833) scale(0.92,1)" class="ax" style="fill:#000">27 Jun 18:30</text>
<polygon points="9,12 16,12 12.5,15.5" fill="#000"/>
<text transform="translate(21,17) scale(0.945,1)" class="ax" style="fill:#000">USDJPY,M30&#160; 112.270 112.294 112.264 112.264</text>
<text transform="translate(10,794) scale(0.945,1)" class="ax" style="fill:#000">MACD(12,26,9) 0.1014 0.1138&#160; Sto(5,3,3) 68.4741 78.5091</text>
<text transform="translate(1041.5,791) scale(0.945,1)" class="ax" style="fill:#000">0.1722</text>
<text transform="translate(1041.5,793) scale(0.945,1)" class="ax" style="fill:#000">80</text>
<text transform="translate(1041.5,814) scale(0.945,1)" class="ax" style="fill:#000">0.00</text>
<text transform="translate(1041.5,816) scale(0.945,1)" class="ax" style="fill:#000">20</text>
<text transform="translate(1041.5,817) scale(0.945,1)" class="ax" style="fill:#000">-0.0539</text>
<g fill="#000" shape-rendering="crispEdges"><rect x="1040" y="782" width="2" height="1"/><rect x="1040" y="810" width="2" height="1"/><rect x="1040" y="819" width="2" height="1"/></g>
</svg></body></html>
